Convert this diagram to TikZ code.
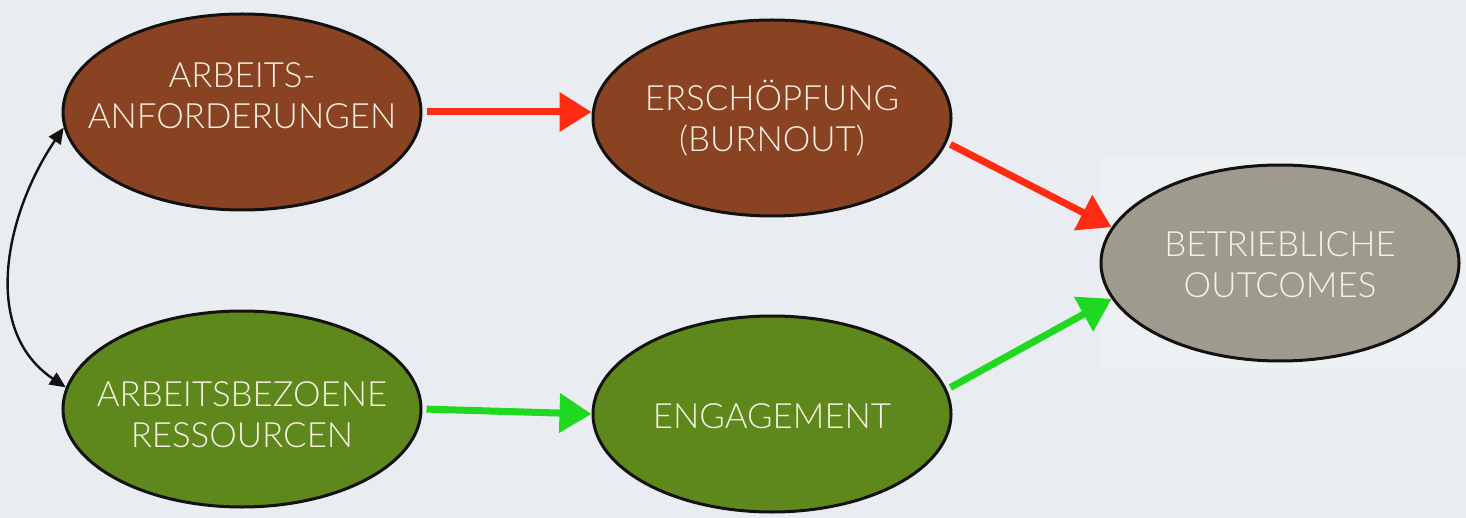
\documentclass[tikz,border=0pt]{standalone}
\usepackage{fontspec}
\setmainfont{Lato}[UprightFont=* Light]
\usetikzlibrary{arrows.meta,calc,shapes.geometric}

\definecolor{bg}{HTML}{E9EDF1}
\definecolor{bgpatch}{HTML}{EEF1F4}
\definecolor{outline}{HTML}{141210}
\definecolor{brownfill}{HTML}{8A4322}
\definecolor{greenfill}{HTML}{5E881B}
\definecolor{greyfill}{HTML}{9E9B8E}
\definecolor{cream}{HTML}{F8F1E3}
\definecolor{arrowred}{HTML}{FF2B12}
\definecolor{arrowgreen}{HTML}{1FD81F}

\begin{document}
\begin{tikzpicture}[x=0.5pt,y=-0.5pt,
  blob/.style={ellipse, draw=outline, line width=1.5pt,
    minimum width=179pt, minimum height=98pt, inner sep=0pt},
  caption/.style={text=cream, align=center, inner sep=0pt,
    font=\fontsize{17.4}{20.5}\selectfont},
  redlink/.style={draw=arrowred, line width=3.5pt, shorten <=2pt,
    -{Triangle[length=16pt,width=19pt]}},
  greenlink/.style={draw=arrowgreen, line width=3.5pt, shorten <=2pt,
    -{Triangle[length=16pt,width=19pt]}},
  bothways/.style={draw=outline, line width=1.2pt,
    {Triangle[length=8pt,width=7pt]}-{Triangle[length=8pt,width=7pt]}}
]
% canvas
\fill[bg] (0,0) rectangle (1466,518);
\useasboundingbox (0,0) rectangle (1466,518);
\fill[bgpatch] (1100,157) rectangle (1466,368);

% the five constructs
\node[blob, fill=brownfill] (A) at (242,112) {};
\node[blob, fill=greenfill] (B) at (242,409) {};
\node[blob, fill=brownfill] (C) at (772,118) {};
\node[blob, fill=greenfill] (D) at (772,414) {};
\node[blob, fill=greyfill]  (E) at (1280,263) {};

\node[caption] (At) at (242,96)  {ARBEITS-\\ANFORDERUNGEN};
\node[caption] (Bt) at (242,415) {ARBEITSBEZOENE\\RESSOURCEN};
\node[caption] (Ct) at (772,118) {ERSCHÖPFUNG\\(BURNOUT)};
\node[caption] (Dt) at (772,416) {ENGAGEMENT};
\node[caption] (Et) at (1280,265) {BETRIEBLICHE\\OUTCOMES};

% paths
\draw[redlink]   (A.east) -- (A.east -| C.west);
\draw[greenlink] (B.east) -- (D.west);
\draw[redlink]   (C.-8)  -- (E.168);
\draw[greenlink] (D.8)   -- (E.192);
\draw[bothways]  (A.185) .. controls (7,211) and (-21,329) .. (B.173);
\end{tikzpicture}
\end{document}
